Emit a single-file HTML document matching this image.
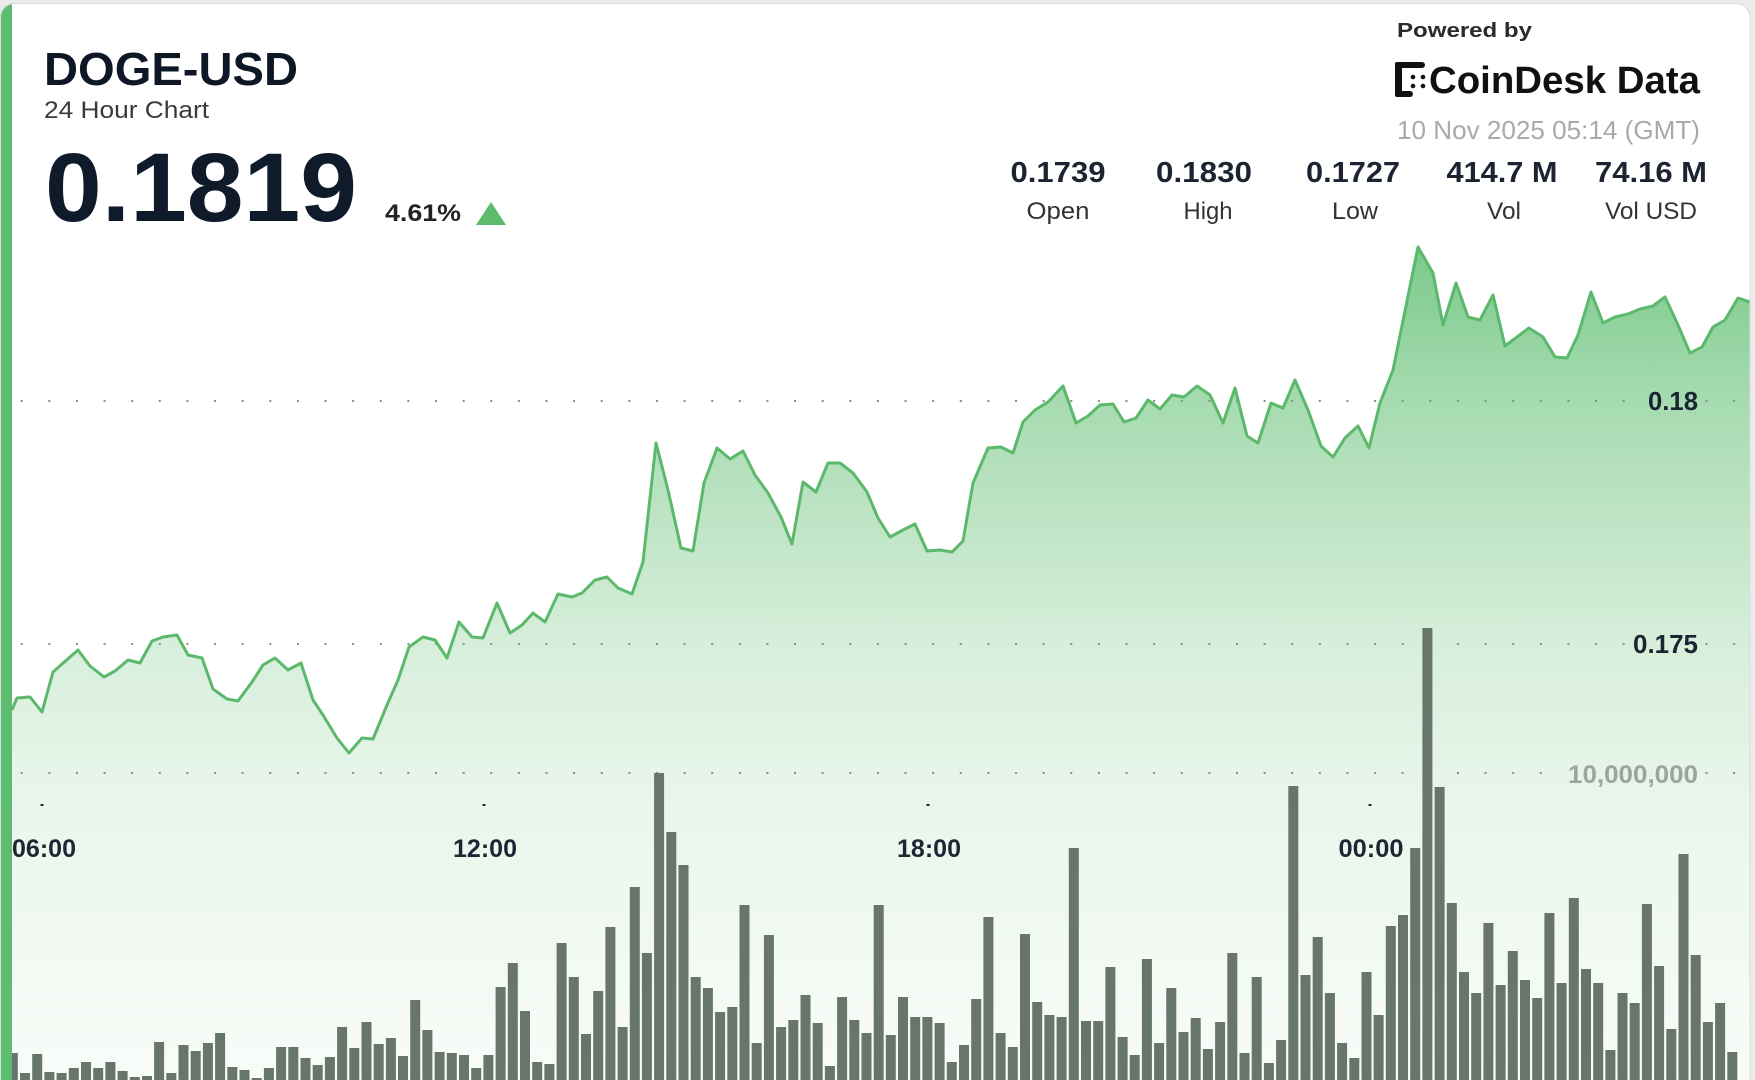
<!DOCTYPE html>
<html><head><meta charset="utf-8"><style>
html,body{margin:0;padding:0;background:#ebebeb;}
svg{display:block;font-family:"Liberation Sans",sans-serif;}
</style></head><body>
<svg width="1755" height="1080" viewBox="0 0 1755 1080" xmlns="http://www.w3.org/2000/svg">
<defs>
<clipPath id="card"><rect x="0" y="3" width="1750" height="1100" rx="14"/></clipPath>
<linearGradient id="fg" gradientUnits="userSpaceOnUse" x1="0" y1="240" x2="0" y2="1080">
<stop offset="0" stop-color="#79c889"/>
<stop offset="0.19" stop-color="#a6dbb0"/>
<stop offset="0.36" stop-color="#c3e6c9"/>
<stop offset="0.49" stop-color="#d8efdc"/>
<stop offset="0.67" stop-color="#e9f6eb"/>
<stop offset="1" stop-color="#f9fcf9"/>
</linearGradient>
</defs>
<rect x="0" y="0" width="1755" height="1080" fill="#ebebeb"/>
<g clip-path="url(#card)">
<rect x="0" y="3" width="1750" height="1100" fill="#ffffff"/>
<path fill="url(#fg)" d="M12,710 L17,698 L30,697 L42,712 L53,672 L62,664 L78,650 L90,666 L104,677 L115,671 L128,660 L140,663 L152,641 L163,637 L177,635 L188,655 L202,658 L213,689 L227,699 L238,701 L252,682 L263,665 L275,658 L288,670 L301,663 L313,700 L323,715 L337,738 L349,753 L362,738 L373,739 L387,705 L398,680 L409,647 L423,637 L435,640 L447,658 L459,622 L472,637 L483,638 L497,603 L510,633 L522,625 L533,613 L545,622 L558,594 L572,597 L582,593 L595,580 L607,577 L618,588 L632,594 L643,562 L656,443 L668,490 L681,548 L693,551 L704,483 L717,448 L730,459 L743,451 L755,475 L768,493 L781,517 L792,544 L803,482 L816,492 L828,463 L840,463 L853,473 L867,492 L878,518 L890,537 L903,530 L915,524 L927,551 L940,550 L952,552 L963,541 L973,483 L988,448 L1001,447 L1013,453 L1023,422 L1035,410 L1048,402 L1063,386 L1076,423 L1088,416 L1100,405 L1113,404 L1124,422 L1136,418 L1148,400 L1160,409 L1172,395 L1184,397 L1197,386 L1210,395 L1223,423 L1235,388 L1247,436 L1258,443 L1271,403 L1283,408 L1295,380 L1308,410 L1321,446 L1333,457 L1345,438 L1358,426 L1369,448 L1380,403 L1393,370 L1418,247 L1433,273 L1443,325 L1456,283 L1468,317 L1480,320 L1493,295 L1505,346 L1517,337 L1529,328 L1543,337 L1555,357 L1567,358 L1578,335 L1591,292 L1603,323 L1615,317 L1628,314 L1640,309 L1653,306 L1665,297 L1678,325 L1690,353 L1702,347 L1713,327 L1725,320 L1738,298 L1750,302 L1750,1080 L12,1080 Z"/>
<g stroke="#8a8f8a" stroke-width="2" stroke-dasharray="2 25.62">
<line x1="20.7" y1="401" x2="1750" y2="401"/>
<line x1="20.7" y1="644" x2="1750" y2="644"/>
<line x1="20.7" y1="773" x2="1750" y2="773"/>
</g>
<g fill="url(#fg)">
<rect x="1645" y="396" width="56" height="10"/>
<rect x="1630" y="639" width="71" height="10"/>
<rect x="1562" y="768" width="139" height="10"/>
</g>
<path fill="#67756a" d="M7.8 1053h10V1080h-10zM20 1073h10V1080h-10zM32.2 1054h10V1080h-10zM44.4 1072h10V1080h-10zM56.6 1073h10V1080h-10zM68.8 1068h10V1080h-10zM81 1062h10V1080h-10zM93.2 1068h10V1080h-10zM105.4 1062h10V1080h-10zM117.6 1071h10V1080h-10zM129.8 1077h10V1080h-10zM142 1076h10V1080h-10zM154.1 1042h10V1080h-10zM166.3 1073h10V1080h-10zM178.5 1045h10V1080h-10zM190.7 1051h10V1080h-10zM202.9 1043h10V1080h-10zM215.1 1033h10V1080h-10zM227.3 1067h10V1080h-10zM239.5 1070h10V1080h-10zM251.7 1078h10V1080h-10zM263.9 1068h10V1080h-10zM276.1 1047h10V1080h-10zM288.3 1047h10V1080h-10zM300.5 1058h10V1080h-10zM312.7 1065h10V1080h-10zM324.9 1057h10V1080h-10zM337.1 1027h10V1080h-10zM349.3 1048h10V1080h-10zM361.5 1022h10V1080h-10zM373.7 1044h10V1080h-10zM385.9 1038h10V1080h-10zM398 1056h10V1080h-10zM410.2 1000h10V1080h-10zM422.4 1030h10V1080h-10zM434.6 1052h10V1080h-10zM446.8 1053h10V1080h-10zM459 1055h10V1080h-10zM471.2 1068h10V1080h-10zM483.4 1055h10V1080h-10zM495.6 987h10V1080h-10zM507.8 963h10V1080h-10zM520 1011h10V1080h-10zM532.2 1062h10V1080h-10zM544.4 1064h10V1080h-10zM556.6 943h10V1080h-10zM568.8 977h10V1080h-10zM581 1034h10V1080h-10zM593.2 991h10V1080h-10zM605.4 927h10V1080h-10zM617.6 1027h10V1080h-10zM629.8 887h10V1080h-10zM641.9 953h10V1080h-10zM654.1 773h10V1080h-10zM666.3 832h10V1080h-10zM678.5 865h10V1080h-10zM690.7 977h10V1080h-10zM702.9 988h10V1080h-10zM715.1 1012h10V1080h-10zM727.3 1007h10V1080h-10zM739.5 905h10V1080h-10zM751.7 1043h10V1080h-10zM763.9 935h10V1080h-10zM776.1 1027h10V1080h-10zM788.3 1020h10V1080h-10zM800.5 995h10V1080h-10zM812.7 1023h10V1080h-10zM824.9 1066h10V1080h-10zM837.1 997h10V1080h-10zM849.3 1020h10V1080h-10zM861.5 1033h10V1080h-10zM873.7 905h10V1080h-10zM885.8 1035h10V1080h-10zM898 997h10V1080h-10zM910.2 1017h10V1080h-10zM922.4 1017h10V1080h-10zM934.6 1023h10V1080h-10zM946.8 1062h10V1080h-10zM959 1045h10V1080h-10zM971.2 999h10V1080h-10zM983.4 917h10V1080h-10zM995.6 1033h10V1080h-10zM1007.8 1047h10V1080h-10zM1020 934h10V1080h-10zM1032.2 1002h10V1080h-10zM1044.4 1015h10V1080h-10zM1056.6 1017h10V1080h-10zM1068.8 848h10V1080h-10zM1081 1021h10V1080h-10zM1093.2 1021h10V1080h-10zM1105.4 967h10V1080h-10zM1117.6 1037h10V1080h-10zM1129.7 1055h10V1080h-10zM1141.9 959h10V1080h-10zM1154.1 1043h10V1080h-10zM1166.3 988h10V1080h-10zM1178.5 1032h10V1080h-10zM1190.7 1018h10V1080h-10zM1202.9 1049h10V1080h-10zM1215.1 1022h10V1080h-10zM1227.3 953h10V1080h-10zM1239.5 1053h10V1080h-10zM1251.7 977h10V1080h-10zM1263.9 1063h10V1080h-10zM1276.1 1040h10V1080h-10zM1288.3 786h10V1080h-10zM1300.5 975h10V1080h-10zM1312.7 937h10V1080h-10zM1324.9 993h10V1080h-10zM1337.1 1043h10V1080h-10zM1349.3 1058h10V1080h-10zM1361.5 972h10V1080h-10zM1373.6 1015h10V1080h-10zM1385.8 926h10V1080h-10zM1398 915h10V1080h-10zM1410.2 848h10V1080h-10zM1422.4 628h10V1080h-10zM1434.6 787h10V1080h-10zM1446.8 903h10V1080h-10zM1459 972h10V1080h-10zM1471.2 993h10V1080h-10zM1483.4 923h10V1080h-10zM1495.6 985h10V1080h-10zM1507.8 951h10V1080h-10zM1520 980h10V1080h-10zM1532.2 998h10V1080h-10zM1544.4 913h10V1080h-10zM1556.6 983h10V1080h-10zM1568.8 898h10V1080h-10zM1581 969h10V1080h-10zM1593.2 983h10V1080h-10zM1605.4 1050h10V1080h-10zM1617.5 993h10V1080h-10zM1629.7 1003h10V1080h-10zM1641.9 904h10V1080h-10zM1654.1 966h10V1080h-10zM1666.3 1029h10V1080h-10zM1678.5 854h10V1080h-10zM1690.7 955h10V1080h-10zM1702.9 1022h10V1080h-10zM1715.1 1003h10V1080h-10zM1727.3 1052h10V1080h-10z"/>
<polyline fill="none" stroke="#5cb96b" stroke-width="3" stroke-linejoin="round" points="12,710 17,698 30,697 42,712 53,672 62,664 78,650 90,666 104,677 115,671 128,660 140,663 152,641 163,637 177,635 188,655 202,658 213,689 227,699 238,701 252,682 263,665 275,658 288,670 301,663 313,700 323,715 337,738 349,753 362,738 373,739 387,705 398,680 409,647 423,637 435,640 447,658 459,622 472,637 483,638 497,603 510,633 522,625 533,613 545,622 558,594 572,597 582,593 595,580 607,577 618,588 632,594 643,562 656,443 668,490 681,548 693,551 704,483 717,448 730,459 743,451 755,475 768,493 781,517 792,544 803,482 816,492 828,463 840,463 853,473 867,492 878,518 890,537 903,530 915,524 927,551 940,550 952,552 963,541 973,483 988,448 1001,447 1013,453 1023,422 1035,410 1048,402 1063,386 1076,423 1088,416 1100,405 1113,404 1124,422 1136,418 1148,400 1160,409 1172,395 1184,397 1197,386 1210,395 1223,423 1235,388 1247,436 1258,443 1271,403 1283,408 1295,380 1308,410 1321,446 1333,457 1345,438 1358,426 1369,448 1380,403 1393,370 1418,247 1433,273 1443,325 1456,283 1468,317 1480,320 1493,295 1505,346 1517,337 1529,328 1543,337 1555,357 1567,358 1578,335 1591,292 1603,323 1615,317 1628,314 1640,309 1653,306 1665,297 1678,325 1690,353 1702,347 1713,327 1725,320 1738,298 1750,302"/>
<g fill="#1e2633">
<rect x="40.5" y="804" width="3" height="2"/>
<rect x="482.5" y="804" width="3" height="2"/>
<rect x="926.5" y="804" width="3" height="2"/>
<rect x="1368.5" y="804" width="3" height="2"/>
</g>
<g font-weight="bold" font-size="25" fill="#1e2633" text-anchor="middle">
<text x="44" y="857" textLength="64" lengthAdjust="spacingAndGlyphs">06:00</text>
<text x="485" y="857" textLength="64" lengthAdjust="spacingAndGlyphs">12:00</text>
<text x="929" y="857" textLength="64" lengthAdjust="spacingAndGlyphs">18:00</text>
<text x="1371" y="857" textLength="65" lengthAdjust="spacingAndGlyphs">00:00</text>
</g>
<g font-weight="bold" font-size="26" text-anchor="end">
<text x="1698" y="410" fill="#1b2430" textLength="50" lengthAdjust="spacingAndGlyphs">0.18</text>
<text x="1698" y="653" fill="#1b2430" textLength="65" lengthAdjust="spacingAndGlyphs">0.175</text>
<text x="1698" y="783" fill="#9aa59b" font-size="25" textLength="130" lengthAdjust="spacingAndGlyphs">10,000,000</text>
</g>
<!-- header -->
<text x="44" y="85" font-size="46" font-weight="bold" fill="#0e1726" textLength="254" lengthAdjust="spacingAndGlyphs">DOGE-USD</text>
<text x="44" y="118" font-size="24" fill="#3a3a3a" textLength="165" lengthAdjust="spacingAndGlyphs">24 Hour Chart</text>
<text x="45" y="221" font-size="97" font-weight="bold" fill="#0f1a2b" textLength="312" lengthAdjust="spacingAndGlyphs">0.1819</text>
<text x="385" y="221" font-size="24" font-weight="bold" fill="#222" textLength="76" lengthAdjust="spacingAndGlyphs">4.61%</text>
<polygon points="476,225 506,225 491,202" fill="#5dbb6c"/>
<text x="1397" y="37" font-size="20" font-weight="bold" fill="#2a2a2a" textLength="135" lengthAdjust="spacingAndGlyphs">Powered by</text>
<g fill="#111">
<rect x="1395" y="62" width="7" height="35" rx="2"/>
<rect x="1395" y="62" width="30" height="6" rx="3"/>
<rect x="1395" y="91" width="18" height="6" rx="3"/>
<circle cx="1413" cy="77" r="2.3"/>
<circle cx="1423" cy="77" r="2.3"/>
<circle cx="1413" cy="86" r="2.3"/>
<circle cx="1423" cy="86" r="2.3"/>
</g>
<text x="1429" y="93" font-size="38" font-weight="bold" fill="#111" textLength="271" lengthAdjust="spacingAndGlyphs">CoinDesk Data</text>
<text x="1397" y="139" font-size="26" fill="#a9a9a9" textLength="303" lengthAdjust="spacingAndGlyphs">10 Nov 2025 05:14 (GMT)</text>
<g font-size="29" font-weight="bold" fill="#1c2432" text-anchor="middle">
<text x="1058" y="182" textLength="95" lengthAdjust="spacingAndGlyphs">0.1739</text>
<text x="1204" y="182" textLength="96" lengthAdjust="spacingAndGlyphs">0.1830</text>
<text x="1353" y="182" textLength="94" lengthAdjust="spacingAndGlyphs">0.1727</text>
<text x="1502" y="182" textLength="111" lengthAdjust="spacingAndGlyphs">414.7 M</text>
<text x="1651" y="182" textLength="112" lengthAdjust="spacingAndGlyphs">74.16 M</text>
</g>
<g font-size="24" fill="#333" text-anchor="middle">
<text x="1058" y="219" textLength="63" lengthAdjust="spacingAndGlyphs">Open</text>
<text x="1208" y="219" textLength="49" lengthAdjust="spacingAndGlyphs">High</text>
<text x="1355" y="219" textLength="46" lengthAdjust="spacingAndGlyphs">Low</text>
<text x="1504" y="219" textLength="34" lengthAdjust="spacingAndGlyphs">Vol</text>
<text x="1651" y="219" textLength="92" lengthAdjust="spacingAndGlyphs">Vol USD</text>
</g>
<rect x="0" y="3" width="12" height="1100" fill="#5dbd6e"/>
</g>
<rect x="0.5" y="3.5" width="1749.5" height="1100" rx="14" fill="none" stroke="#dcdcdc" stroke-width="1"/>
</svg>
</body></html>
